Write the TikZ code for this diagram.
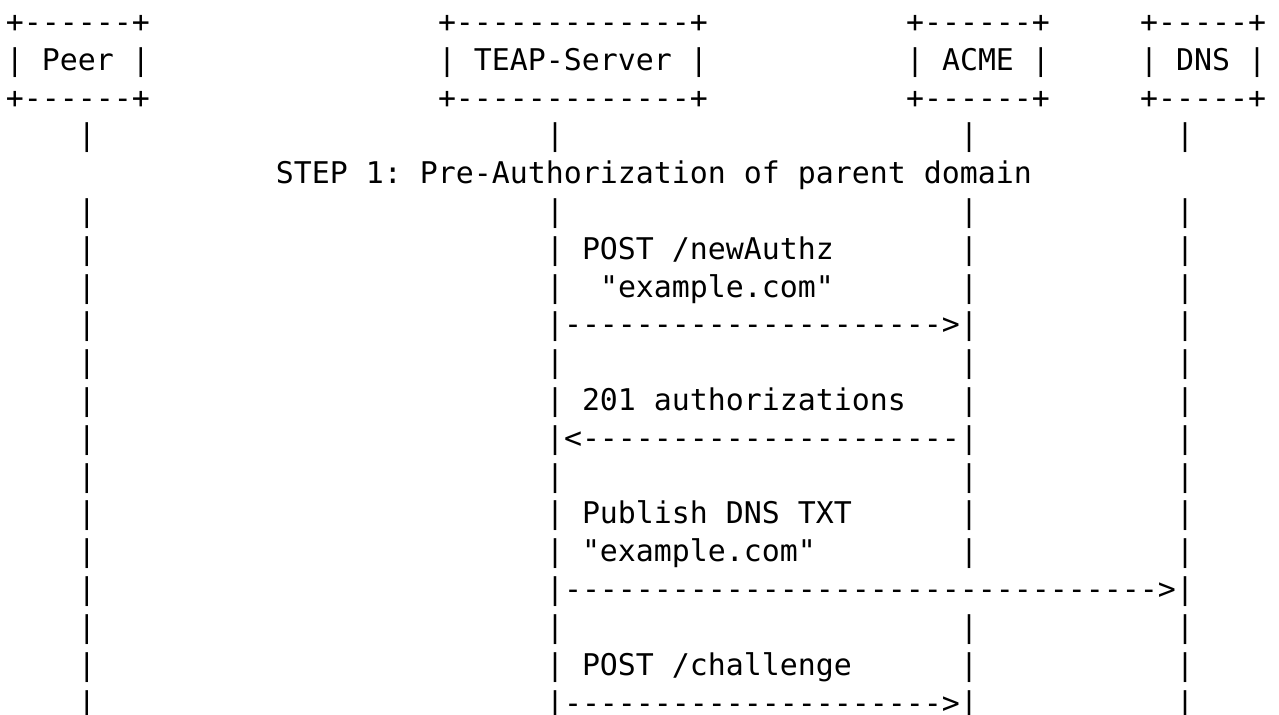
\documentclass[tikz,border=0pt]{standalone}
\usepackage{fontspec}
\setmonofont{DejaVu Sans Mono}
\usepackage{tikz}
\usetikzlibrary{positioning}

\tikzset{
  ascii/.style={font=\ttfamily\fontsize{12}{15}\selectfont\frenchspacing,
    inner sep=0pt, outer sep=0pt, anchor=base west,
    xshift=-3.6123pt, yshift=-4.25pt},
}

\begin{document}
\begin{tikzpicture}[x=7.2246pt, y=-15.172pt]
  \fill[white] (-0.833,0.418) rectangle (70.222,19.307);
  \useasboundingbox (-0.833,0.418) rectangle (70.222,19.307);

  \node (PeerTop) [ascii] at (0,1) {+------+};
  \node (Peer) [ascii] at (0,2) {| Peer |};
  \node (PeerBot) [ascii] at (0,3) {+------+};
  \node (TeapTop) [ascii] at (24,1) {+-------------+};
  \node (Teap) [ascii] at (24,2) {| TEAP-Server |};
  \node (TeapBot) [ascii] at (24,3) {+-------------+};
  \node (AcmeTop) [ascii] at (50,1) {+------+};
  \node (Acme) [ascii] at (50,2) {| ACME |};
  \node (AcmeBot) [ascii] at (50,3) {+------+};
  \node (DnsTop) [ascii] at (63,1) {+-----+};
  \node (Dns) [ascii] at (63,2) {| DNS |};
  \node (DnsBot) [ascii] at (63,3) {+-----+};

  \foreach \r in {4,6,7,8,9,10,11,12,13,14,15,16,17,18,19} {
    \node (PeerLife\r) [ascii] at (4,\r) {|};
    \node (TeapLife\r) [ascii] at (30,\r) {|};
    \node (DnsLife\r) [ascii] at (65,\r) {|};
  }
  \foreach \r in {4,6,7,8,9,10,11,12,13,14,15,17,18,19} {
    \node (AcmeLife\r) [ascii] at (53,\r) {|};
  }

  \node (Step) [ascii] at (15,5) {STEP 1: Pre-Authorization of parent domain};

  \node (NewAuthz) [ascii] at (32,7) {POST /newAuthz};
  \node (NewAuthzArg) [ascii] at (33,8) {"example.com"};
  \node (NewAuthzMsg) [ascii] at (31,9) {--------------------->};

  \node (Authz) [ascii] at (32,11) {201 authorizations};
  \node (AuthzMsg) [ascii] at (31,12) {<---------------------};

  \node (Publish) [ascii] at (32,14) {Publish DNS TXT};
  \node (PublishArg) [ascii] at (32,15) {"example.com"};
  \node (PublishMsg) [ascii] at (31,16) {--------------------------------->};

  \node (Challenge) [ascii] at (32,18) {POST /challenge};
  \node (ChallengeMsg) [ascii] at (31,19) {--------------------->};
\end{tikzpicture}
\end{document}
